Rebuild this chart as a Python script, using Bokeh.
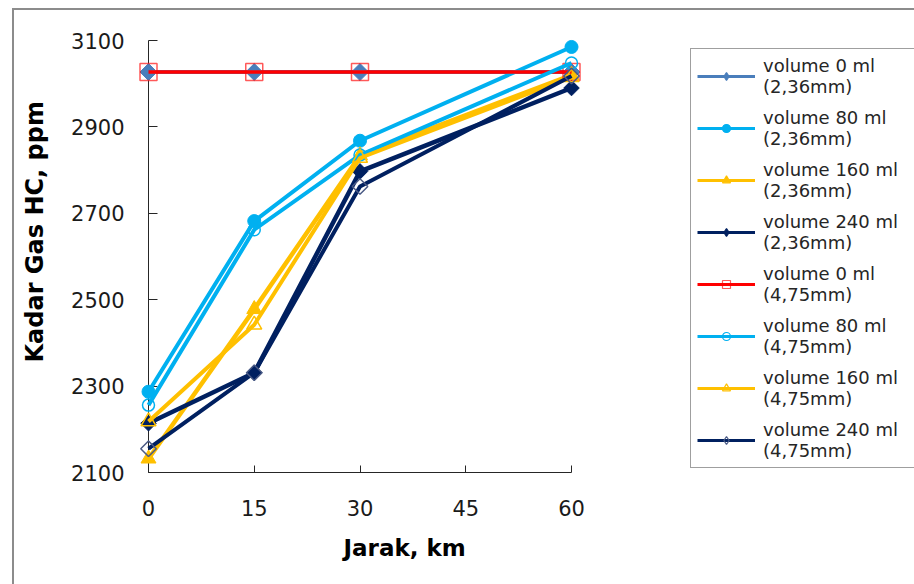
import numpy as np
from bokeh.plotting import figure
from bokeh.layouts import row
from bokeh.models import Legend, LegendItem, Title, FixedTicker, Range1d
from bokeh.embed import file_html
from bokeh.resources import INLINE

# ---- data ----
jarak_km = [0, 15, 30, 60]
x_ticks = [0, 15, 30, 45, 60]
y_ticks = [2100, 2300, 2500, 2700, 2900, 3100]

vol0_236 = [3027, 3027, 3027, 3027]
vol80_236 = [2287, 2682, 2868, 3085]
vol160_236 = [2132, 2478, 2834, 3020]
vol240_236 = [2214, 2331, 2797, 2990]
vol0_475 = [3027, 3027, 3027, 3027]
vol80_475 = [2256, 2662, 2835, 3048]
vol160_475 = [2218, 2442, 2828, 3015]
vol240_475 = [2155, 2331, 2762, 3018]

series_labels = [
    "volume 0 ml\n(2,36mm)",
    "volume 80 ml\n(2,36mm)",
    "volume 160 ml\n(2,36mm)",
    "volume 240 ml\n(2,36mm)",
    "volume 0 ml\n(4,75mm)",
    "volume 80 ml\n(4,75mm)",
    "volume 160 ml\n(4,75mm)",
    "volume 240 ml\n(4,75mm)",
]
series_values = [vol0_236, vol80_236, vol160_236, vol240_236,
                 vol0_475, vol80_475, vol160_475, vol240_475]

# ---- styles ----
STEEL = "#4A7EBB"
SKY = "#00B0F0"
GOLD = "#FFC000"
NAVY = "#002060"
RED = "#FF0000"

styles = [
    dict(color=STEEL, lw=4, marker="square", legm="diamond", angle=np.pi / 4, size=12, fill=STEEL, line=STEEL, mlw=1, lalpha=1),
    dict(color=SKY, lw=4, marker="circle", legm="circle", angle=0, size=13, fill=SKY, line=SKY, mlw=1, lalpha=1),
    dict(color=GOLD, lw=4.5, marker="triangle", legm="triangle", angle=0, size=15, fill=GOLD, line=GOLD, mlw=1, lalpha=1),
    dict(color=NAVY, lw=4.5, marker="square", legm="diamond", angle=np.pi / 4, size=11, fill=NAVY, line=NAVY, mlw=1, lalpha=1),
    dict(color=RED, lw=3.5, marker="square", legm="square", angle=0, size=17, fill=None, line=RED, mlw=1.5, lalpha=0.65),
    dict(color=SKY, lw=4, marker="circle", legm="circle", angle=0, size=12, fill=None, line=SKY, mlw=1.5, lalpha=1),
    dict(color=GOLD, lw=4, marker="triangle", legm="triangle", angle=0, size=15, fill=None, line=GOLD, mlw=1.5, lalpha=1),
    dict(color=NAVY, lw=4, marker="square", legm="diamond", angle=np.pi / 4, size=11, fill=None, line="#4A5A85", mlw=1.5, lalpha=1),
]

BORDER = "#8c8c8c"

# ---------------- main chart ----------------
p = figure(width=680, height=584,
           x_range=Range1d(0, 60), y_range=Range1d(2100, 3100),
           output_backend="svg", toolbar_location=None,
           min_border_left=148, min_border_right=109,
           min_border_top=40, min_border_bottom=112)
p.styles = {
    "background": (f"linear-gradient({BORDER},{BORDER}) 12px 8px / 2px 100% no-repeat, "
                   f"linear-gradient({BORDER},{BORDER}) 12px 8px / 100% 2px no-repeat, white"),
}
p.grid.visible = False
p.outline_line_color = None
p.background_fill_color = "white"
p.border_fill_color = None
p.border_fill_alpha = 0

for ax in (p.xaxis[0], p.yaxis[0]):
    ax.axis_line_color = "#262626"
    ax.axis_line_width = 1
    ax.major_tick_line_color = "#262626"
    ax.major_tick_out = 0
    ax.minor_tick_line_color = None
    ax.major_label_text_font = "DejaVu Sans"
    ax.major_label_text_font_size = "21px"
    ax.major_label_text_color = "#1a1a1a"

p.xaxis.ticker = FixedTicker(ticks=x_ticks)
p.yaxis.ticker = FixedTicker(ticks=y_ticks)
p.xaxis.major_tick_in = 7
p.yaxis.major_tick_in = 9
p.xaxis.major_label_standoff = 27
p.yaxis.major_label_standoff = 24

for vals, st in zip(series_values, styles):
    p.line(jarak_km, vals, line_color=st["color"], line_width=st["lw"], level="overlay")
    p.scatter(jarak_km, vals, marker=st["marker"], size=st["size"], angle=st["angle"],
              fill_color=st["fill"], line_color=st["line"], line_width=st["mlw"],
              line_alpha=st["lalpha"], level="overlay")

p.add_layout(Title(text="Jarak, km", align="left", offset=195, standoff=28,
                   text_font="DejaVu Sans", text_font_style="bold",
                   text_font_size="23px", text_color="black"), "below")
p.add_layout(Title(text="Kadar Gas HC, ppm", align="left", offset=110, standoff=37,
                   vertical_align="middle",
                   text_font="DejaVu Sans", text_font_style="bold",
                   text_font_size="24px", text_color="black"), "left")

# ---------------- legend panel ----------------
lg = figure(width=234, height=584, x_range=Range1d(0, 1), y_range=Range1d(0, 1),
            output_backend="svg", toolbar_location=None,
            x_axis_location=None, y_axis_location=None, min_border=0)
lg.styles = {
    "background": f"linear-gradient({BORDER},{BORDER}) 0px 8px / 100% 2px no-repeat, white",
}
lg.grid.visible = False
lg.outline_line_color = None
lg.background_fill_alpha = 0
lg.border_fill_alpha = 0

items = []
for lab, st in zip(series_labels, styles):
    lr = lg.line([-10, -9], [-10, -9], line_color=st["color"], line_width=3)
    sr = lg.scatter([-10], [-10], marker=st["legm"], size=10,
                    fill_color=st["fill"], line_color=st["line"], line_width=1.2,
                    line_alpha=st["lalpha"])
    items.append(LegendItem(label=lab, renderers=[lr, sr]))

legend = Legend(items=items, location=(10, 4), orientation="vertical",
                glyph_width=58, glyph_height=20, label_standoff=8, label_width=146,
                padding=6, spacing=10, margin=0,
                label_text_font="DejaVu Sans", label_text_font_size="18px",
                label_text_line_height=1.28, label_text_color="#262626",
                border_line_color="#404040", border_line_width=1,
                background_fill_color="white", background_fill_alpha=1)
lg.add_layout(legend, "center")

layout = row(p, lg, spacing=0)
open("out.html", "w").write(file_html(layout, INLINE))
